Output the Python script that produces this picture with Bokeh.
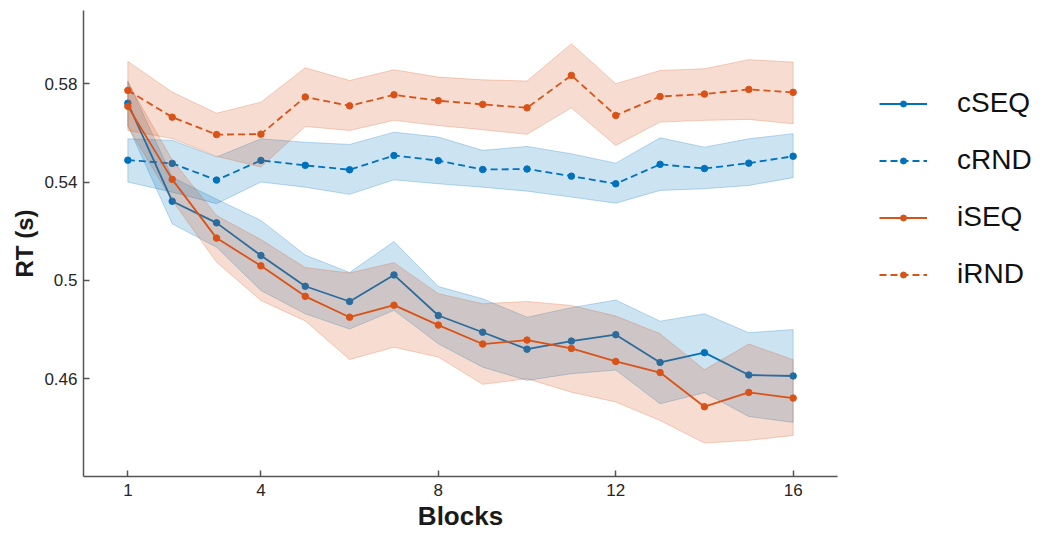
from bokeh.plotting import figure
from bokeh.models import Range1d, FixedTicker, Legend, LegendItem
from bokeh.layouts import row
from bokeh.embed import file_html
from bokeh.resources import INLINE

blocks = list(range(1, 17))

cseq_mean = [0.5721, 0.5322, 0.5234, 0.5101, 0.4976, 0.4914, 0.5022, 0.4857, 0.4789, 0.4720, 0.4753, 0.4779, 0.4666, 0.4706, 0.4615, 0.4611]
cseq_up   = [0.5812, 0.5420, 0.5330, 0.5244, 0.5103, 0.5032, 0.5158, 0.4975, 0.4925, 0.4850, 0.4889, 0.4920, 0.4834, 0.4864, 0.4787, 0.4800]
cseq_lo   = [0.5630, 0.5230, 0.5135, 0.4959, 0.4864, 0.4802, 0.4878, 0.4742, 0.4647, 0.4593, 0.4620, 0.4635, 0.4498, 0.4543, 0.4446, 0.4422]

crnd_mean = [0.5489, 0.5476, 0.5408, 0.5488, 0.5468, 0.5450, 0.5508, 0.5487, 0.5451, 0.5453, 0.5424, 0.5393, 0.5472, 0.5455, 0.5477, 0.5505]
crnd_up   = [0.5576, 0.5570, 0.5502, 0.5576, 0.5562, 0.5553, 0.5603, 0.5583, 0.5529, 0.5545, 0.5515, 0.5477, 0.5580, 0.5542, 0.5576, 0.5597]
crnd_lo   = [0.5400, 0.5359, 0.5312, 0.5400, 0.5379, 0.5350, 0.5409, 0.5393, 0.5379, 0.5363, 0.5339, 0.5314, 0.5366, 0.5373, 0.5386, 0.5418]

iseq_mean = [0.5708, 0.5411, 0.5172, 0.5059, 0.4935, 0.4850, 0.4899, 0.4818, 0.4741, 0.4757, 0.4723, 0.4670, 0.4625, 0.4486, 0.4544, 0.4521]
iseq_up   = [0.5805, 0.5490, 0.5264, 0.5166, 0.5052, 0.5030, 0.5072, 0.4946, 0.4905, 0.4914, 0.4898, 0.4855, 0.4783, 0.4636, 0.4741, 0.4677]
iseq_lo   = [0.5625, 0.5325, 0.5074, 0.4918, 0.4835, 0.4678, 0.4728, 0.4688, 0.4577, 0.4600, 0.4545, 0.4505, 0.4430, 0.4338, 0.4349, 0.4369]

irnd_mean = [0.5773, 0.5664, 0.5593, 0.5595, 0.5746, 0.5710, 0.5755, 0.5731, 0.5716, 0.5702, 0.5834, 0.5671, 0.5748, 0.5758, 0.5777, 0.5765]
irnd_up   = [0.5891, 0.5766, 0.5680, 0.5725, 0.5865, 0.5813, 0.5857, 0.5827, 0.5816, 0.5811, 0.5963, 0.5800, 0.5854, 0.5861, 0.5898, 0.5888]
irnd_lo   = [0.5610, 0.5577, 0.5505, 0.5461, 0.5626, 0.5610, 0.5651, 0.5630, 0.5613, 0.5594, 0.5702, 0.5549, 0.5644, 0.5651, 0.5655, 0.5637]

x_ticks = [1, 4, 8, 12, 16]
y_ticks = [0.46, 0.5, 0.54, 0.58]
y_tick_labels = ["0.46", "0.5", "0.54", "0.58"]

BLUE = "#0072BD"
ORANGE = "#D95319"
FONT = "Liberation Sans"

p = figure(width=838, height=534, output_backend="svg", toolbar_location=None,
           x_range=Range1d(0, 17), y_range=Range1d(0.4202, 0.6098),
           min_border_left=83, min_border_right=1, min_border_top=10, min_border_bottom=58)
p.outline_line_color = None
p.xgrid.visible = False
p.ygrid.visible = False

series = [
    ("cSEQ", cseq_mean, cseq_up, cseq_lo, BLUE, "solid"),
    ("cRND", crnd_mean, crnd_up, crnd_lo, BLUE, "7 4"),
    ("iSEQ", iseq_mean, iseq_up, iseq_lo, ORANGE, "solid"),
    ("iRND", irnd_mean, irnd_up, irnd_lo, ORANGE, "7 4"),
]

# legend panel: a separate axis-free figure to the right; its series sit outside its view
q = figure(width=209, height=534, output_backend="svg", toolbar_location=None,
           x_axis_location=None, y_axis_location=None,
           x_range=Range1d(100, 101), y_range=Range1d(100, 101),
           min_border=0)
q.outline_line_color = None
q.xgrid.visible = False
q.ygrid.visible = False

items = []
for name, mean, up, lo, col, dash in series:
    xs = blocks + blocks[::-1]
    ys = up + lo[::-1]
    p.patch(xs, ys, fill_color=col, fill_alpha=0.2, line_color=col, line_alpha=0.25, line_width=1)
    p.line(blocks, mean, line_color=col, line_width=1.8, line_dash=dash)
    p.scatter(blocks, mean, size=6.5, fill_color=col, line_color=col)
    lr = q.line(blocks, mean, line_color=col, line_width=1.8, line_dash=dash)
    sr = q.scatter(blocks, mean, size=6.5, fill_color=col, line_color=col)
    items.append(LegendItem(label=name, renderers=[lr, sr]))

legend = Legend(items=items, location=(41, 186), orientation="vertical",
                glyph_width=48, glyph_height=15, label_height=15, spacing=25,
                label_standoff=30, padding=10, margin=0,
                label_text_font=FONT, label_text_font_size="28px", label_text_color="#111111",
                background_fill_alpha=0, border_line_color=None)
q.add_layout(legend, "center")

for ax in (p.xaxis[0], p.yaxis[0]):
    ax.axis_line_color = "#555555"
    ax.axis_line_width = 1.5
    ax.major_tick_line_color = "#555555"
    ax.major_tick_line_width = 1.5
    ax.major_tick_in = 6
    ax.major_tick_out = 0
    ax.minor_tick_line_color = None
    ax.major_label_text_font = FONT
    ax.major_label_text_font_size = "17px"
    ax.major_label_text_color = "#262626"
    ax.major_label_standoff = 6
    ax.axis_label_text_font = FONT
    ax.axis_label_text_font_style = "bold"
    ax.axis_label_text_color = "#1a1a1a"

p.xaxis[0].ticker = FixedTicker(ticks=x_ticks)
p.yaxis[0].ticker = FixedTicker(ticks=y_ticks)
p.yaxis[0].major_label_overrides = {t: s for t, s in zip(y_ticks, y_tick_labels)}
p.xaxis[0].major_label_standoff = 7

p.yaxis[0].axis_label = "RT (s)"
p.yaxis[0].axis_label_text_font_size = "24px"
p.yaxis[0].axis_label_standoff = 3

p.xaxis[0].axis_label = "Blocks"
p.xaxis[0].axis_label_text_font_size = "26px"
p.xaxis[0].axis_label_standoff = 2

layout = row(p, q)
open("out.html", "w").write(file_html(layout, INLINE))
